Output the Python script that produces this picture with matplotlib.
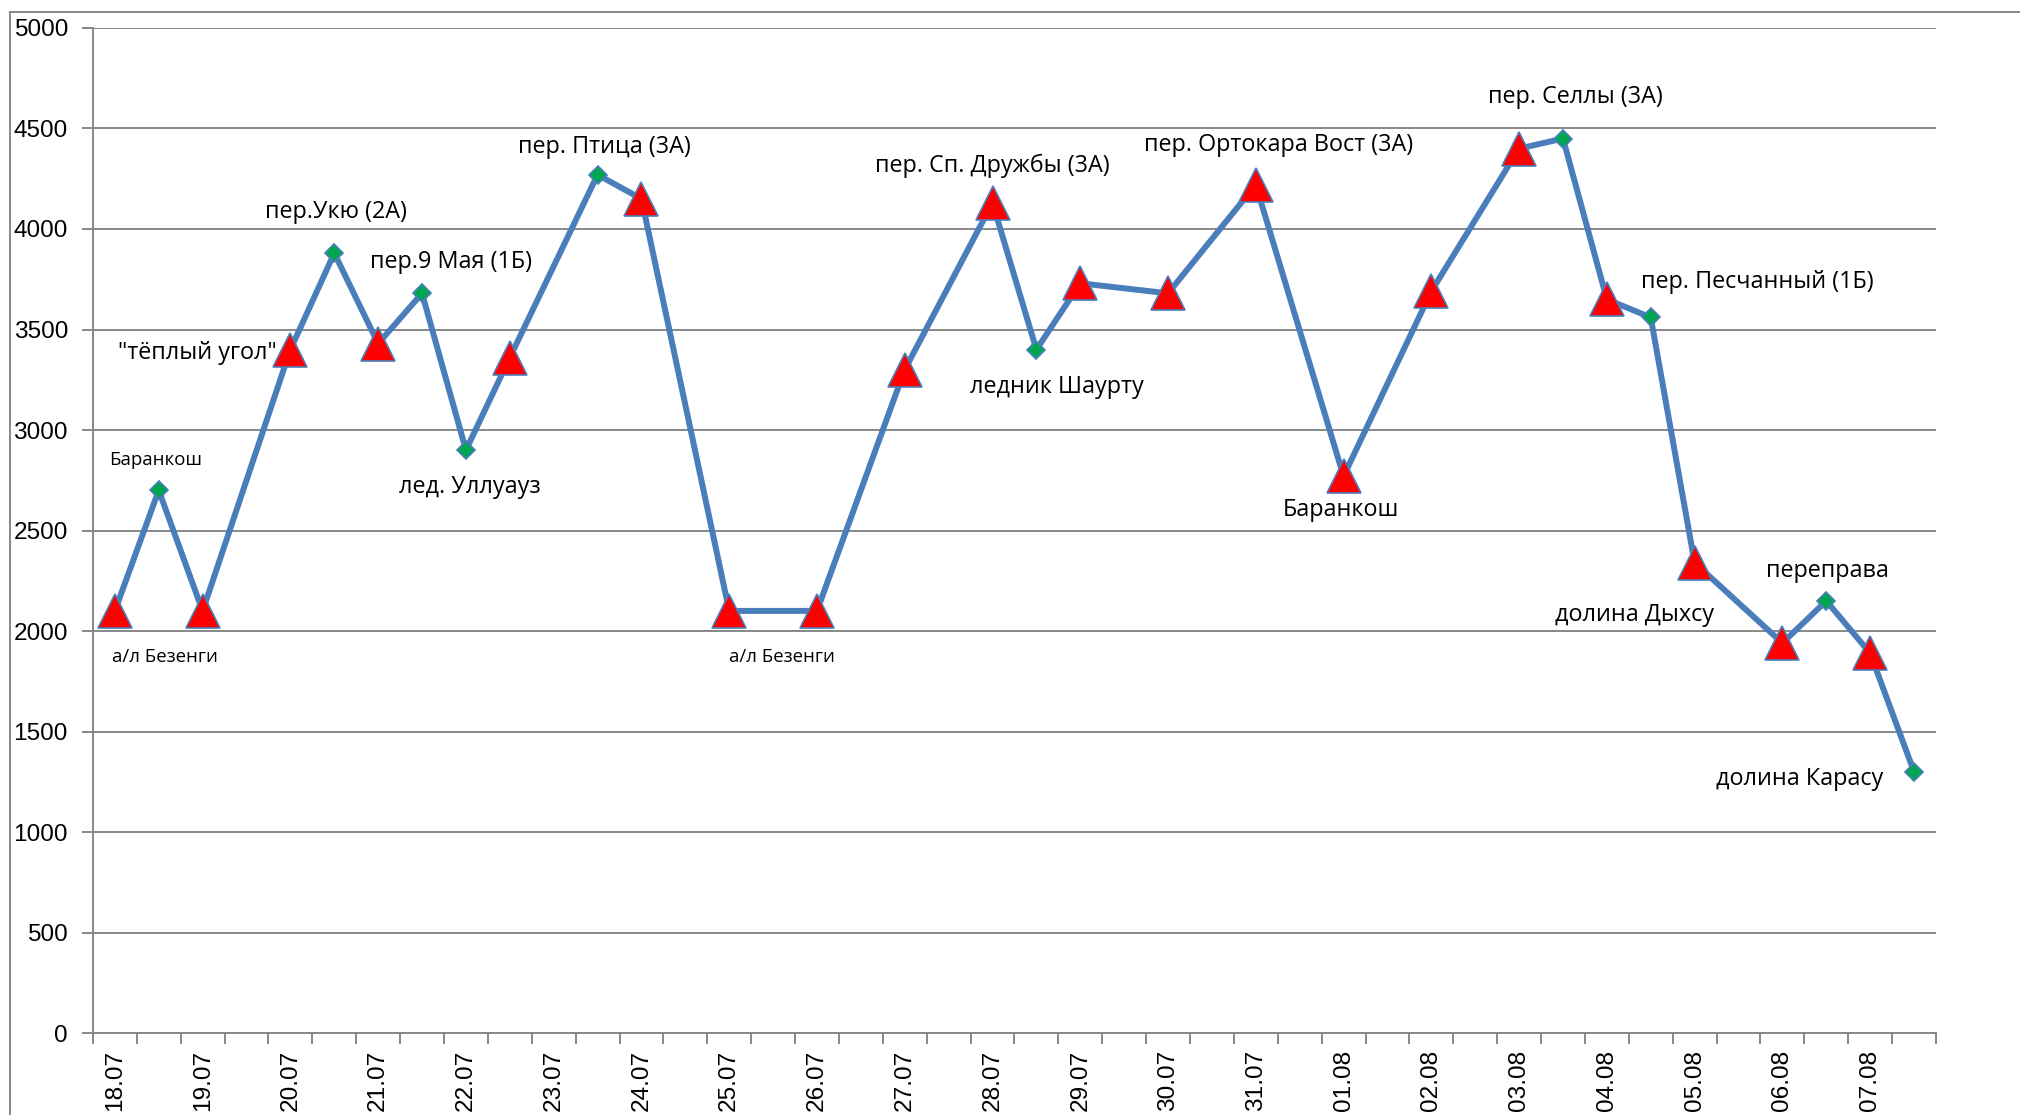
import matplotlib
matplotlib.use("Agg")
import matplotlib.pyplot as plt
from matplotlib.lines import Line2D

# half-day slots (0 = morning of 18.07), altitude in metres
slot = [0, 1, 2, 4, 5, 6, 7, 8, 9, 11, 12, 14, 16, 18, 20, 21, 22, 24, 26,
        28, 30, 32, 33, 34, 35, 36, 38, 39, 40, 41]
alt = [2100, 2700, 2100, 3400, 3880, 3430, 3680, 2900, 3360, 4270, 4150,
       2100, 2100, 3300, 4130, 3400, 3730, 3680, 4220, 2770, 3690, 4400,
       4450, 3650, 3560, 2340, 1940, 2150, 1890, 1300]
# 1 = pass / waypoint (diamond), 0 = camp (triangle)
is_pass = [0, 1, 0, 0, 1, 0, 1, 1, 0, 1, 0, 0, 0, 0, 0, 1, 0, 0, 0,
           0, 0, 0, 1, 0, 1, 0, 0, 1, 0, 1]

dates = ["18.07", "19.07", "20.07", "21.07", "22.07", "23.07", "24.07",
         "25.07", "26.07", "27.07", "28.07", "29.07", "30.07", "31.07",
         "01.08", "02.08", "03.08", "04.08", "05.08", "06.08", "07.08"]

# point index in the lists above, label text
label_idx = [0, 1, 3, 4, 6, 7, 9, 11, 14, 15, 18, 19, 22, 24, 25, 27, 29]
label_txt = ["а/л Безенги", "Баранкош", '"тёплый угол"', "пер.Укю (2А)",
             "пер.9 Мая (1Б)", "лед. Уллуауз", "пер. Птица (3А)", "а/л Безенги",
             "пер. Сп. Дружбы (3А)", "ледник Шаурту", "пер. Ортокара Вост (3А)",
             "Баранкош", "пер. Селлы (3А)", "пер. Песчанный (1Б)",
             "долина Дыхсу", "переправа", "долина Карасу"]
# offsets (pixels) and alignment of each label
label_off = [(50, -46), (-3, 30), (-18, -3), (2, 41), (29, 31), (4, -37),
             (7, 28), (53, -46), (0, 37), (20, -37), (23, 40), (-3, -34),
             (12, 42), (107, 35), (-60, -52), (1, 30), (-114, -7)]
label_small = [1, 1, 0, 0, 0, 0, 0, 1, 0, 0, 0, 0, 0, 0, 0, 0, 0]
label_ha = ["center", "center", "right"] + ["center"] * 14

plt.rcParams['font.family'] = ['Open Sans', 'DejaVu Sans']

fig = plt.figure(figsize=(20.2, 11.15), dpi=100)
ax = fig.add_axes([0.046, 0.0735, 0.9124, 0.9014])

blue = '#4a7ebb'
grid = '#888888'

ax.plot(slot, alt, color=blue, lw=4.3, zorder=3, solid_joinstyle='miter')
camp_x = [s for s, p in zip(slot, is_pass) if not p]
camp_y = [a for a, p in zip(alt, is_pass) if not p]
pass_x = [s for s, p in zip(slot, is_pass) if p]
pass_y = [a for a, p in zip(alt, is_pass) if p]
ax.plot(camp_x, camp_y, ls='none', marker='^', ms=24, mfc='#ff0000',
        mec=blue, mew=1.2, zorder=4)
ax.plot(pass_x, pass_y, ls='none', marker='D', ms=9.5, mfc='#00a550',
        mec=blue, mew=1.2, zorder=4)

for i, t, off, sm, ha in zip(label_idx, label_txt, label_off, label_small, label_ha):
    if ha == 'right':
        off = (off[0] + 4, off[1])
    ax.annotate(t, (slot[i], alt[i]), xytext=off, textcoords='offset pixels',
                ha=ha, va='center', fontsize=13.4 if sm else 16.8, zorder=5)

ax.set_ylim(0, 5000)
ax.set_yticks(range(0, 5001, 500))
ax.set_xlim(-0.5, 41.5)
ax.set_xticks([k - 0.5 for k in range(43)])
ax.set_xticklabels([])
ax.set_xticks(list(range(0, 42, 2)), minor=True)
ax.set_xticklabels(dates, minor=True, rotation=90, fontsize=17.6,
                   family=['Liberation Sans'])
ax.tick_params(axis='x', which='minor', length=0, pad=12)
ax.tick_params(axis='x', which='major', length=8, width=1.4, color=grid)
ax.tick_params(axis='y', length=8, width=1.4, color=grid, labelsize=17.6, pad=10)
for lab in ax.get_yticklabels():
    lab.set_family(['Liberation Sans'])

ax.grid(axis='y', color=grid, lw=1.4)
ax.set_axisbelow(True)
for s in ['top', 'right']:
    ax.spines[s].set_visible(False)
for s in ['left', 'bottom']:
    ax.spines[s].set_color(grid)
    ax.spines[s].set_linewidth(1.4)

# outer frame of the chart area (cropped at right and bottom)
fig.add_artist(Line2D([10 / 2020, 10 / 2020], [0, 1 - 12 / 1115],
                      transform=fig.transFigure, color=grid, lw=1.4))
fig.add_artist(Line2D([10 / 2020, 1], [1 - 12 / 1115, 1 - 12 / 1115],
                      transform=fig.transFigure, color=grid, lw=1.4))

fig.savefig('out.png', dpi=100)
